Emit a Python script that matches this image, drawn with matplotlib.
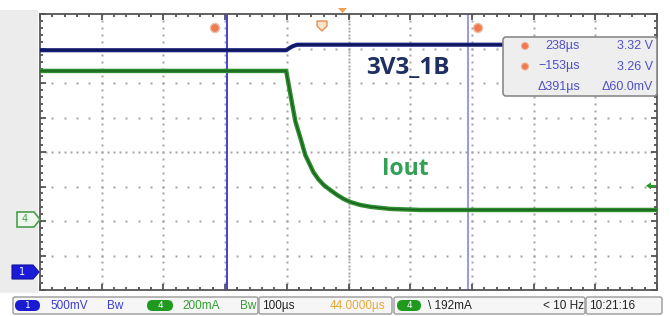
"""Scope capture: 3V3_1B rail and Iout during a load step (recreated)."""

import matplotlib

matplotlib.use("Agg")
import matplotlib.pyplot as plt  # noqa: E402
import numpy as np  # noqa: E402
from matplotlib.patches import FancyBboxPatch, Polygon, Rectangle, Circle  # noqa: E402

# --- data ---
# time in us, 100 us/div, screen centre at 44 us (delay)
T_PER_DIV = 100.0
T_CENTER = 44.0

# ch1: 3V3_1B rail, 500 mV/div, ground marker at 0.55 div
ch1_t = [-456, -57, -52, -46, -39, 544]
ch1_v = [3.20, 3.20, 3.23, 3.26, 3.28, 3.28]
CH1_SCALE = 0.5
CH1_OFFSET = 0.55

# ch4: Iout, 200 mA/div, ground marker at 2.06 div
ch4_t = [-456, -57, -52, -47, -42, -34, -26, -19, -13, -5, 4, 15, 26, 36, 47, 63, 80, 112,
         161, 544]
ch4_ma = [858, 858, 759, 660, 564, 470, 370, 318, 272, 231, 196, 166, 138, 116, 98, 81, 70,
          58, 52, 52]
CH4_SCALE = 200.0
CH4_OFFSET = 2.06

cursor_t = [-153, 238]
cursor_colors = ["#3434c8", "#9090ea"]
readout_rows = [("238µs", "3.32 V"), ("−153µs", "3.26 V"), ("Δ391µs", "Δ60.0mV")]
trigger_ma = 192

NARROW = ["Liberation Sans Narrow", "Liberation Sans", "DejaVu Sans"]

fig = plt.figure(figsize=(6.7, 3.16), dpi=100)
W, H = 670, 316
x0, x1, y0, y1 = 40, 657, 14, 290
ax = fig.add_axes([x0 / W, 1 - y1 / H, (x1 - x0) / W, (y1 - y0) / H])

t_lo = T_CENTER - 5 * T_PER_DIV
t_hi = T_CENTER + 5 * T_PER_DIV
ax.set_xlim(t_lo, t_hi)
ax.set_ylim(0, 8)

# dotted graticule (dots at 1/5 div)
gcol = "#a4a4a4"
for i in range(1, 10):
    tx = t_lo + i * T_PER_DIV
    step = 0.1 if i == 5 else 0.2
    ys = np.arange(0, 8.001, step)
    ax.plot(np.full_like(ys, tx), ys, ls="none", marker="s", ms=1.4 if i == 5 else 1.7,
            color=gcol, mec="none", zorder=1)
for j in range(1, 8):
    step = 10 if j == 4 else 20
    xs = np.arange(t_lo, t_hi + 0.1, step)
    ax.plot(xs, np.full_like(xs, j), ls="none", marker="s", ms=1.7,
            color=gcol, mec="none", zorder=1)

# cursors
for tc, cc in zip(cursor_t, cursor_colors):
    ax.axvline(tc, color=cc, lw=1.3, zorder=2)

# traces
y1_div = CH1_OFFSET + np.array(ch1_v) / CH1_SCALE
y4_div = CH4_OFFSET + np.array(ch4_ma) / CH4_SCALE
ax.plot(ch4_t, y4_div, color="#2f8f2f", lw=3.2, solid_joinstyle="round",
        solid_capstyle="round", zorder=3)
ax.plot(ch4_t, y4_div, color="#1b5e20", lw=1.0, zorder=3)
ax.plot(ch1_t, y1_div, color="#1a2380", lw=3.0, solid_joinstyle="round", zorder=3)
ax.plot(ch1_t, y1_div, color="#0d1450", lw=1.0, zorder=3)

ax.text(T_CENTER + 0.97 * T_PER_DIV, (290 - 68.5) / 34.5, "3V3_1B", color="#1f2f62",
        fontsize=17.5, fontweight="bold", family="Open Sans", ha="center", va="center", zorder=4)
ax.text(T_CENTER + 0.92 * T_PER_DIV, (290 - 169) / 34.5, "Iout", color="#33a055",
        fontsize=16.5, fontweight="bold", family="Open Sans", ha="center", va="center", zorder=4)

# border with inward minor ticks
for s in ax.spines.values():
    s.set_color("#555555")
    s.set_linewidth(1.3)
ax.set_xticks(np.arange(t_lo, t_hi + 0.1, T_PER_DIV))
ax.set_xticks(np.arange(t_lo, t_hi + 0.1, T_PER_DIV / 5), minor=True)
ax.set_yticks(np.arange(0, 8.01, 1))
ax.set_yticks(np.arange(0, 8.01, 0.2), minor=True)
ax.tick_params(which="both", direction="in", top=True, right=True, labelbottom=False,
               labelleft=False, color="#444444", width=1.2)
ax.tick_params(which="major", length=4)
ax.tick_params(which="minor", length=2.5)

# --- overlay in pixel coordinates ---
ov = fig.add_axes([0, 0, 1, 1], zorder=5)
ov.set_xlim(0, W)
ov.set_ylim(H, 0)
ov.axis("off")
ov.patch.set_alpha(0)

ov.add_patch(Rectangle((0, 10), 38, 283, facecolor="#ececec", edgecolor="none"))

# channel ground markers
ov.add_patch(Polygon([(17, 212), (34, 212), (40, 219.5), (34, 227), (17, 227)],
                     closed=True, facecolor="#eef7ee", edgecolor="#4a9e4a", lw=1.2))
ov.text(25, 219.5, "4", color="#4a9e4a", fontsize=7, ha="center", va="center")
ov.add_patch(Polygon([(12, 265), (33, 265), (39, 272), (33, 279), (12, 279)],
                     closed=True, facecolor="#1a1ad8", edgecolor="#1010a0", lw=0.8))
ov.text(22, 272, "1", color="white", fontsize=7, ha="center", va="center")

# trigger level arrow (right edge)
trig_y = y1 - (CH4_OFFSET + trigger_ma / CH4_SCALE) * 34.5
ov.add_patch(Polygon([(646, trig_y), (651, trig_y - 3.5), (651, trig_y + 3.5)], closed=True,
                     facecolor="#2a9a2a", edgecolor="none"))
ov.plot([650, 655], [trig_y, trig_y], color="#2a9a2a", lw=1.5)

# cursor markers and trigger position marks at top
for cx in (215, 478):
    ov.add_patch(Circle((cx, 28), 4.5, facecolor="#f07a50", edgecolor="#e8c0a8", lw=1.0))
ov.add_patch(Polygon([(317, 21), (327, 21), (327, 26), (322, 31), (317, 26)], closed=True,
                     facecolor="#fbe4cc", edgecolor="#e89050", lw=1.0))
ov.add_patch(Polygon([(338, 8), (347, 8), (342.5, 13)], closed=True,
                     facecolor="#f0a050", edgecolor="none"))

# cursor readout box
ov.add_patch(FancyBboxPatch((503, 37), 154, 59, boxstyle="round,pad=0,rounding_size=3",
                            facecolor="#eeeeef", edgecolor="#8a8a8a", lw=1.2))
for k, (tv, vv) in enumerate(readout_rows):
    ry = 46 + k * 20.5
    if k < 2:
        ov.add_patch(Circle((525, ry), 3.5, facecolor="#f07a50", edgecolor="#f3b090", lw=0.8))
    ov.text(580, ry, tv, color="#5050c8", fontsize=9, family=NARROW, ha="right", va="center")
    ov.text(653, ry, vv, color="#5050c8", fontsize=9, family=NARROW, ha="right", va="center")

# status bar
boxes = [(13, 258), (259, 392), (394, 585), (586, 662)]
for bx0, bx1 in boxes:
    ov.add_patch(FancyBboxPatch((bx0, 297), bx1 - bx0, 17, boxstyle="round,pad=0,rounding_size=2",
                                facecolor="#f6f6f6", edgecolor="#9a9a9a", lw=1.0))
badges = [(15, 40, "#1a1ad0", "1"), (147, 173, "#1f9a1f", "4"), (397, 421, "#1f9a1f", "4")]
for bx0, bx1, bc, bl in badges:
    ov.add_patch(FancyBboxPatch((bx0, 300), bx1 - bx0, 11, boxstyle="round,pad=0,rounding_size=5.5",
                                facecolor=bc, edgecolor="none"))
    ov.text((bx0 + bx1) / 2, 305.5, bl, color="white", fontsize=6.5, ha="center", va="center")

status = [(50, "500mV", "#3c3cd0"), (107, "Bw", "#3c3cd0"), (182, "200mA", "#2f9f2f"),
          (240, "Bw", "#2f9f2f"), (262, "100µs", "#222222"), (330, "44.0000µs", "#e8a838"),
          (428, "\\ 192mA", "#222222"), (543, "< 10 Hz", "#222222"), (589, "10:21:16", "#222222")]
for sx, st, sc in status:
    ov.text(sx, 306, st, color=sc, fontsize=8.5, family=NARROW, ha="left", va="center")

fig.savefig("out.png", dpi=100)
plt.close(fig)
